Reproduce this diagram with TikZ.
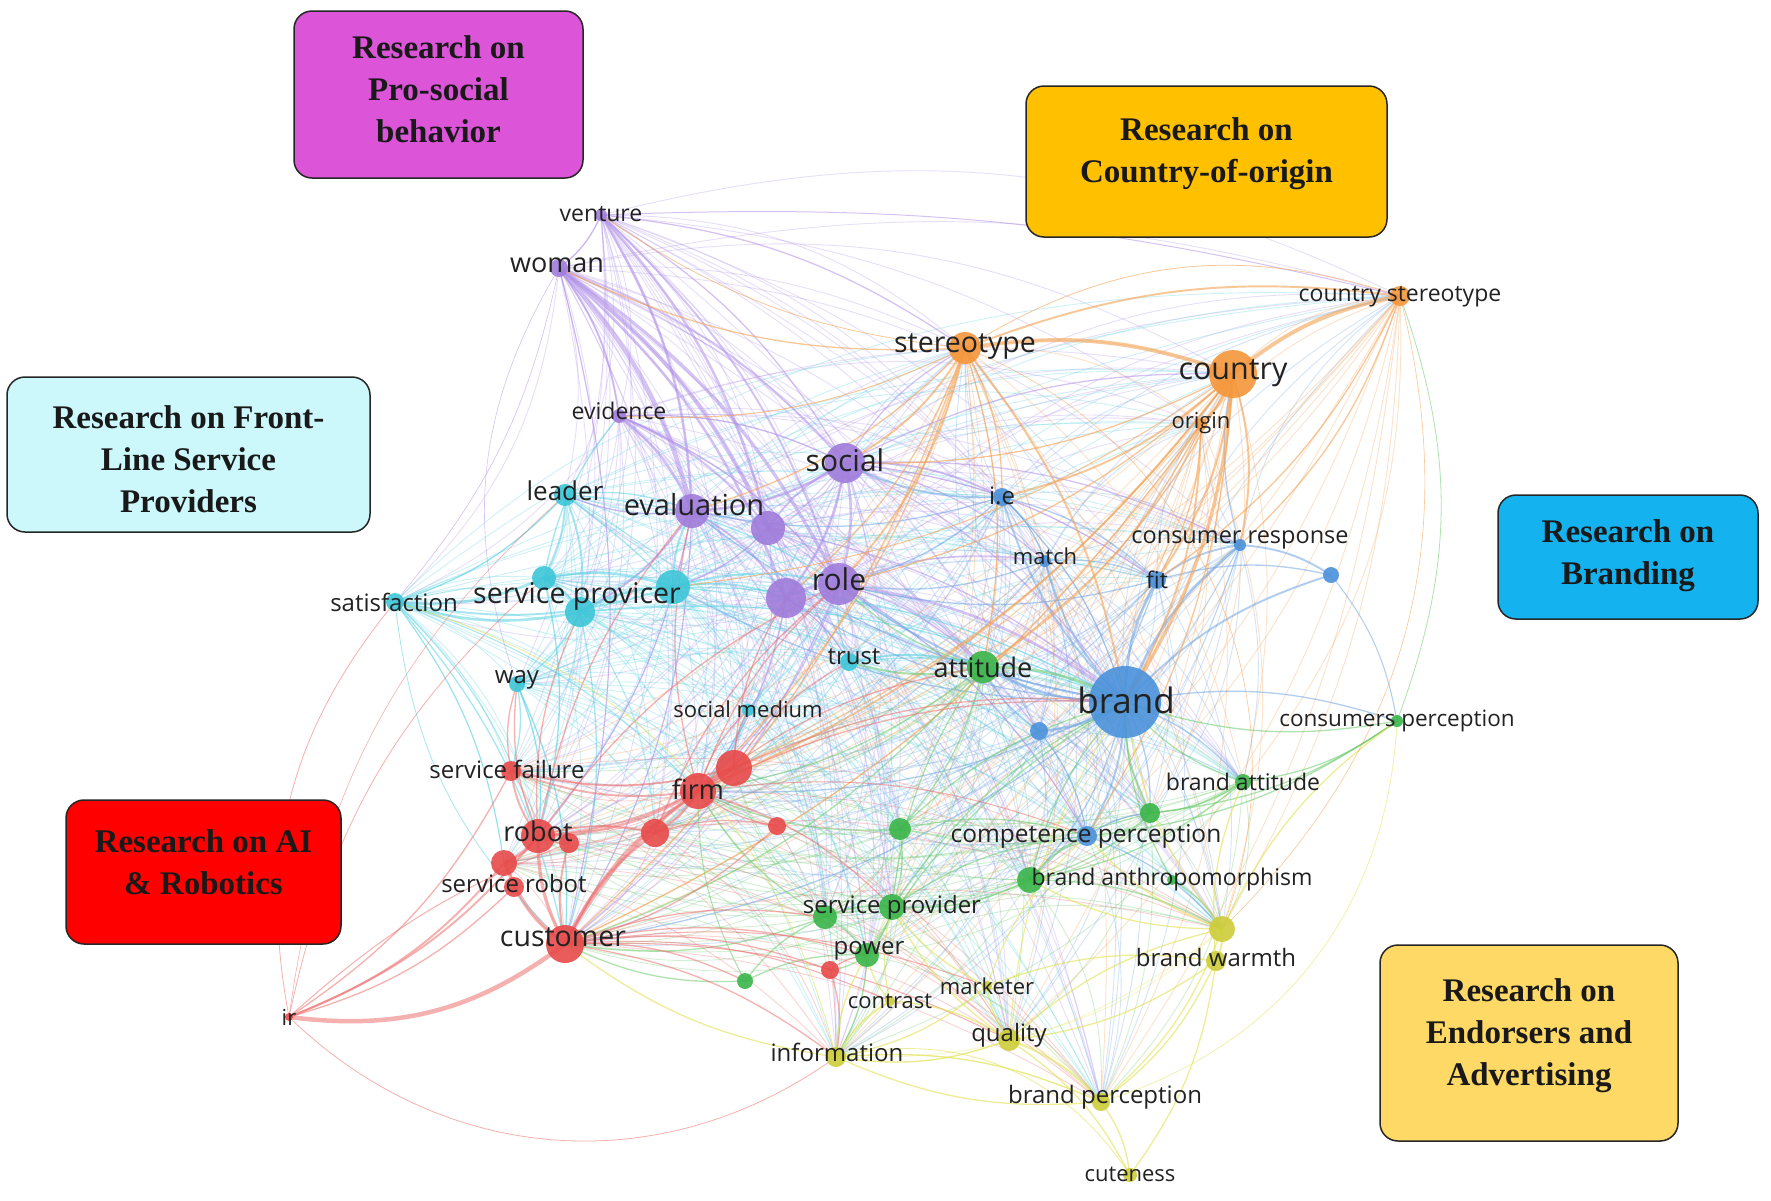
\documentclass[tikz,border=0pt]{standalone}
\usepackage{fontspec}
\newfontfamily\labfont{Open Sans}
\newfontfamily\boxfont{Liberation Serif}
\definecolor{pN}{HTML}{A07CDB}\definecolor{pE}{HTML}{B192E8}
\definecolor{cN}{HTML}{3EC6D8}\definecolor{cE}{HTML}{5CD3E3}
\definecolor{bN}{HTML}{4B92DB}\definecolor{bE}{HTML}{72A6E3}
\definecolor{oN}{HTML}{F5963A}\definecolor{oE}{HTML}{F4A254}
\definecolor{gN}{HTML}{3AB54A}\definecolor{gE}{HTML}{6CCB6C}
\definecolor{rN}{HTML}{E84A4A}\definecolor{rE}{HTML}{EE7070}
\definecolor{yN}{HTML}{CDCD3A}\definecolor{yE}{HTML}{E2E250}
\definecolor{boxP}{HTML}{DC55D8}\definecolor{boxO}{HTML}{FFC000}
\definecolor{boxC}{HTML}{CCF8FC}\definecolor{boxB}{HTML}{14B3EF}
\definecolor{boxR}{HTML}{FF0000}\definecolor{boxY}{HTML}{FFD966}
\definecolor{labtext}{HTML}{222222}
\newcommand\drawedges[2]{\foreach \a/\b/\w in {#2}{\draw[#1, line width=1.3*\w pt] (\a) to[bend left=14] (\b);}}
\def\meshlist{venture/pE, woman/pE, evidence/pE, social/pE, evaluation/pE, purpb/pE, role/pE,
  purpc/pE, leader/cE, satisfaction/cE, spa/cE, spb/cE, spc/cE, way/cE, trust/cE, socmed/cE,
  ie/bE, match/bE, consresp/bE, fit/bE, brand/bE, blueg/bE, compperc/bE, stereotype/oE,
  country/oE, origin/oE, countrystereo/oE, attitude/gE, brandatt/gE, greend/gE, greene/gE,
  branthro/gE, gspa/gE, gspb/gE, power/gE, firm/rE, redb/rE, servfail/rE, robot/rE, rede/rE,
  servrobot/rE, customer/rE, bwarmtop/yE, quality/yE, information/yE, brandperc/yE}
\tikzset{
  edgeP/.style={pE, draw opacity=0.55},
  edgeC/.style={cE, draw opacity=0.55},
  edgeB/.style={bE, draw opacity=0.55},
  edgeO/.style={oE, draw opacity=0.6},
  edgeG/.style={gE, draw opacity=0.55},
  edgeR/.style={rE, draw opacity=0.55},
  edgeY/.style={yE, draw opacity=0.6},
  meshedge/.style={draw opacity=0.3, line width=0.9pt},
  dot/.style={circle, inner sep=0pt, fill opacity=0.9},
  lab/.style={text=labtext, inner sep=0pt, font=\labfont},
  topicbox/.style={draw=black!85, line width=1.5pt, rounded corners=18pt, inner sep=0pt},
  topictext/.style={align=center, inner sep=0pt, text=black!90,
     font={\boxfont\bfseries\fontsize{33}{42}\selectfont}},
}
\begin{document}
\begin{tikzpicture}[x=1pt,y=-1pt]
\fill[white] (0,0) rectangle (1771,1200);
\useasboundingbox (0,0) rectangle (1771,1200);
% ---------- coordinates of network items ----------
\foreach \n/\x/\y in {venture/601/215, woman/559/268, evidence/619/416, social/845/463,
  evaluation/692/511, purpb/768/528, role/839/584, purpc/786/598,
  leader/565/495, satisfaction/395/602, spa/544/578, spb/580/612, spc/673/587,
  way/517/684, trust/849/662, socmed/748/710,
  ie/1002/497, match/1045/561, consresp/1240/545, fit/1157/580, bluee/1331/575,
  brand/1125/702, blueg/1039/731, compperc/1087/836,
  stereotype/965/348, country/1233/374, origin/1201/424, countrystereo/1400/296,
  attitude/983/667, consperc/1397/721, brandatt/1243/782, greend/1150/813, greene/900/829,
  branthro/1030/880, branthrolab/1172/880, gspa/825/917, gspb/892/907, power/867/955, greeni/745/981,
  firm/698/791, redb/734/768, servfail/511/771, robot/538/836, redd/569/843, rede/655/833,
  redf/777/826, servrobot/504/863, redh/514/887, customer/565/944, ir/289/1017, redj/830/970,
  bwarmtop/1222/929, bwarm/1216/961, marketer/987/986, contrast/890/1001, quality/1009/1040,
  information/836/1057, brandperc/1101/1102, cuteness/1130/1175}
  {\coordinate (\n) at (\x,\y);}
% ---------- thin background mesh of co-occurrence links ----------
\foreach \a/\ca [count=\i] in \meshlist {
  \foreach \b/\cb [count=\j] in \meshlist {
    \ifnum\j>\i
      \pgfmathtruncatemacro\k{mod(\i*5+\j*7,3)}
      \ifnum\k>0
        \pgfmathtruncatemacro\bn{8+6*\k}
        \draw[\ca, meshedge] (\a) to[bend left=\bn] (\b);
      \fi
    \fi
  }
}
% ---------- main edges ----------
\drawedges{edgeP}{woman/evaluation/3.5, woman/purpb/3, woman/role/2.5, woman/purpc/2, woman/social/1.5,
  venture/evaluation/2, venture/purpb/2, venture/role/1.5, venture/woman/1, evidence/evaluation/2,
  evidence/purpb/1.5, evidence/role/1, evidence/social/1, social/role/2, social/evaluation/2,
  social/purpc/2, social/brand/1, social/ie/1.5, social/stereotype/1, social/fit/1, social/consresp/1,
  role/brand/2, role/attitude/1, role/firm/1, role/customer/1, purpc/firm/1, evaluation/spb/1.5,
  evaluation/leader/1, evaluation/robot/1, purpb/brand/1, role/match/1, social/country/1,
  venture/stereotype/1, woman/customer/0.8, woman/satisfaction/0.5, role/compperc/1, purpc/trust/1,
  evaluation/customer/0.8, purpb/spc/1, purpb/social/1.5, purpc/role/2, evaluation/purpc/1.5,
  woman/evidence/1.5, venture/social/1, social/match/1}
\drawedges{edgeC}{spa/satisfaction/2, spb/satisfaction/2, spc/satisfaction/1.5, leader/spa/1.5,
  leader/spb/1.5, leader/evaluation/1, spb/way/1, spa/robot/1, spb/customer/1, spc/role/1.5,
  spc/purpc/1.5, satisfaction/customer/1, satisfaction/servrobot/0.8, satisfaction/robot/0.8,
  spb/brand/1, spc/brand/1, trust/attitude/1.5, trust/brand/1, socmed/firm/1, way/customer/1,
  way/servfail/1, leader/role/1, spa/evidence/1, satisfaction/firm/0.8, spa/spc/2, spb/spc/2,
  spa/spb/2, spc/evaluation/1.5, leader/satisfaction/1, way/robot/1, trust/role/1, socmed/rede/1}
\drawedges{edgeB}{brand/fit/2, brand/consresp/2, brand/ie/1.5, brand/match/1.5, brand/bluee/1.5,
  brand/blueg/2, brand/compperc/1.5, brand/attitude/2, ie/role/1, ie/social/1.5, ie/match/1,
  ie/fit/1, fit/consresp/1.5, consresp/bluee/1.5, fit/bluee/1, match/fit/1, brand/brandatt/1,
  brand/greend/1, brand/consperc/1, blueg/attitude/1, compperc/greend/1, compperc/bwarmtop/1,
  brand/customer/1, brand/firm/1, brand/spc/1, brand/evaluation/1, ie/evaluation/1,
  bluee/consperc/0.8, brand/branthro/1, brand/role/1.5, consresp/country/1, fit/role/1,
  match/role/1, blueg/compperc/1, brand/purpc/1, ie/brand/1}
\drawedges{edgeO}{stereotype/country/3, country/countrystereo/3, stereotype/countrystereo/1.5,
  country/origin/2, country/brand/2.5, origin/brand/1.5, country/fit/1.5, country/consresp/1.5,
  countrystereo/consresp/1, countrystereo/fit/1, stereotype/role/1.5, stereotype/social/1.5,
  stereotype/evaluation/1, stereotype/brand/1.5, stereotype/attitude/1, stereotype/ie/1,
  stereotype/customer/1, stereotype/firm/1, stereotype/woman/1, country/social/1, country/ie/1.5,
  country/attitude/1, country/firm/1.5, origin/customer/1, country/compperc/1,
  stereotype/evidence/0.8, country/spc/0.8, country/redb/1, origin/fit/1, stereotype/purpc/1,
  stereotype/venture/0.6, origin/attitude/1, country/role/1}
\drawedges{edgeG}{attitude/brand/2, attitude/trust/1.5, attitude/greene/1, attitude/role/1,
  consperc/brandatt/1, consperc/brand/1, consperc/greend/1, consperc/compperc/1, brandatt/brand/1,
  brandatt/greend/1, brandatt/branthro/1, greend/brand/1.5, greend/branthro/1, greene/gspb/1,
  greene/firm/1, branthro/compperc/1.5, branthro/gspb/1, branthro/bwarmtop/1, gspa/gspb/1.5,
  gspa/power/1, gspb/power/1, gspa/customer/1, gspa/firm/1, power/redj/1, greeni/customer/1,
  greeni/gspa/1, greeni/power/1, power/information/1, gspb/attitude/1, gspb/brand/1, power/brand/1,
  greene/brand/1, branthro/brand/1, greeni/firm/0.8, attitude/firm/1, attitude/customer/1,
  branthrolab/brand/1, branthrolab/bwarmtop/1, greene/compperc/1, gspb/compperc/1}
\drawedges{edgeR}{customer/robot/2.5, customer/firm/2, customer/redb/2, customer/rede/2,
  customer/servrobot/2, customer/redh/1.5, customer/redd/1.5, robot/ir/1.5, servrobot/ir/1.5,
  servfail/ir/1, redh/ir/1, firm/redb/2, firm/robot/2, firm/rede/2, firm/servfail/1.5,
  redb/robot/1.5, redb/servfail/1.5, robot/servfail/1.5, robot/servrobot/2, robot/rede/1.5,
  rede/redf/1, redf/firm/1, redf/customer/1, firm/socmed/1, firm/role/1, firm/evaluation/1,
  redb/purpc/1, robot/spb/1, customer/power/1, customer/redj/1, customer/gspa/1,
  customer/information/1, customer/quality/0.8, customer/greeni/1, firm/attitude/1, firm/brand/1,
  redb/brand/1, firm/gspb/1, redj/information/1, redj/power/1, robot/way/1, servfail/way/1,
  customer/contrast/0.8, customer/marketer/0.8, firm/compperc/0.8, robot/evaluation/1,
  robot/role/1, redb/trust/1, redd/robot/1.5, servrobot/redh/1.5, redb/socmed/1, rede/role/1}
\drawedges{edgeY}{bwarmtop/bwarm/1.5, bwarmtop/brandperc/1, bwarm/brandperc/1, bwarm/cuteness/1,
  brandperc/cuteness/1, quality/brandperc/1.5, quality/cuteness/1, quality/marketer/1,
  quality/information/1, information/contrast/1.5, information/power/1, information/brandperc/1,
  marketer/bwarm/1, quality/bwarmtop/1, bwarmtop/compperc/1, bwarmtop/branthro/1,
  bwarmtop/consperc/1, bwarmtop/brand/1, contrast/power/1, contrast/gspb/1, marketer/gspb/1,
  quality/gspb/1, information/customer/1, bwarm/brandatt/1, quality/brand/0.8,
  marketer/compperc/0.8, brandperc/information/1, contrast/quality/1, marketer/information/1,
  bwarm/quality/1}
% long arcs
\draw[edgeR, line width=4.5pt] (ir) to[bend right=22] (customer);
\draw[edgeR, line width=1pt] (ir) to[bend left=10] (redd);
\draw[edgeR, line width=0.8pt] (ir) to[bend left=18] (spa);
\draw[edgeR, line width=0.8pt] (ir) to[bend left=25] (satisfaction);
\draw[edgeR, line width=0.6pt] (ir) to[bend left=20] (leader);
\draw[edgeR, line width=0.8pt] (ir) to[bend right=40] (information);
\draw[edgeY, line width=0.8pt] (information) to[bend left=35] (cuteness);
\draw[edgeY, line width=0.8pt] (information) to[bend right=30] (satisfaction);
\draw[edgeP, line width=1pt] (venture) to[bend left=8] (countrystereo);
\draw[edgeO, line width=0.8pt] (stereotype) to[bend left=25] (countrystereo);
\draw[edgeO, line width=0.6pt] (countrystereo) to[bend left=30] (bwarmtop);
\draw[edgeO, line width=0.6pt] (stereotype) to[bend left=45] (bwarmtop);
\draw[edgeY, line width=0.6pt] (consperc) to[bend left=35] (brandperc);
\draw[edgeG, line width=0.8pt] (countrystereo) to[bend left=20] (consperc);
\draw[edgeC, line width=0.8pt] (satisfaction) to[bend right=20] (customer);
\draw[edgeP, line width=0.6pt] (woman) to[bend right=25] (way);
% ---------- circles ----------
\foreach \n/\r/\c in {venture/6/pN, woman/9/pN, evidence/7/pN, social/20/pN, evaluation/17/pN,
  purpb/17/pN, role/21/pN, purpc/20/pN,
  leader/11/cN, satisfaction/9/cN, spa/12/cN, spb/15/cN, spc/17/cN, way/8/cN, trust/9/cN, socmed/6/cN,
  ie/9/bN, match/6/bN, consresp/6/bN, fit/9/bN, bluee/8/bN, brand/36/bN, blueg/9/bN, compperc/10/bN,
  stereotype/16/oN, country/24/oN, origin/6/oN, countrystereo/10/oN,
  attitude/16/gN, consperc/6/gN, brandatt/8/gN, greend/10/gN, greene/11/gN, branthro/13/gN,
  branthrolab/5/gN, gspa/12/gN, gspb/13/gN, power/12/gN, greeni/8/gN,
  firm/18/rN, redb/18/rN, servfail/10/rN, robot/17/rN, redd/10/rN, rede/14/rN, redf/9/rN,
  servrobot/13/rN, redh/10/rN, customer/19/rN, ir/4/rN, redj/9/rN,
  bwarmtop/13/yN, bwarm/10/yN, marketer/5/yN, contrast/5/yN, quality/11/yN, information/10/yN,
  brandperc/9/yN, cuteness/7/yN}
  {\node[dot, fill=\c, minimum size={2*\r pt}] (c-\n) at (\n) {};}
% ---------- labels ----------
\node[lab, font=\labfont\fontsize{23}{23}\selectfont] (l-venture) at (601,214) {venture};
\node[lab, font=\labfont\fontsize{27}{27}\selectfont] (l-woman) at (557,265) {woman};
\node[lab, font=\labfont\fontsize{23}{23}\selectfont] (l-evidence) at (619,411) {evidence};
\node[lab, font=\labfont\fontsize{30}{30}\selectfont] (l-social) at (845,460) {social};
\node[lab, font=\labfont\fontsize{29}{29}\selectfont] (l-evaluation) at (694,505) {evaluation};
\node[lab, font=\labfont\fontsize{26}{26}\selectfont] (l-leader) at (565,491) {leader};
\node[lab, font=\labfont\fontsize{24}{24}\selectfont] (l-satisfaction) at (394,602) {satisfaction};
\node[lab, font=\labfont\fontsize{28.5}{29}\selectfont] (l-sp) at (577,596) {service provicer};
\node[lab, font=\labfont\fontsize{24}{24}\selectfont] (l-way) at (517,680) {way};
\node[lab, font=\labfont\fontsize{24}{24}\selectfont] (l-trust) at (854,657) {trust};
\node[lab, font=\labfont\fontsize{22}{22}\selectfont] (l-socmed) at (748,709) {social medium};
\node[lab, font=\labfont\fontsize{30}{30}\selectfont] (l-role) at (839,579) {role};
\node[lab, font=\labfont\fontsize{24}{24}\selectfont] (l-ie) at (1002,496) {i.e};
\node[lab, font=\labfont\fontsize{22}{22}\selectfont] (l-match) at (1045,556) {match};
\node[lab, font=\labfont\fontsize{23.5}{24}\selectfont] (l-consresp) at (1240,540) {consumer response};
\node[lab, font=\labfont\fontsize{23}{23}\selectfont] (l-fit) at (1157,580) {fit};
\node[lab, font=\labfont\fontsize{35}{35}\selectfont] (l-brand) at (1126,700) {brand};
\node[lab, font=\labfont\fontsize{28.5}{29}\selectfont] (l-stereotype) at (965,347) {stereotype};
\node[lab, font=\labfont\fontsize{30.5}{31}\selectfont] (l-country) at (1233,373) {country};
\node[lab, font=\labfont\fontsize{22}{22}\selectfont] (l-origin) at (1201,423) {origin};
\node[lab, font=\labfont\fontsize{23}{23}\selectfont] (l-countrystereo) at (1400,297) {country stereotype};
\node[lab, font=\labfont\fontsize{27}{27}\selectfont] (l-attitude) at (983,667) {attitude};
\node[lab, font=\labfont\fontsize{22.5}{23}\selectfont] (l-consperc) at (1397,721) {consumers perception};
\node[lab, font=\labfont\fontsize{23}{23}\selectfont] (l-brandatt) at (1243,782) {brand attitude};
\node[lab, font=\labfont\fontsize{24.5}{25}\selectfont] (l-compperc) at (1086,836) {competence perception};
\node[lab, font=\labfont\fontsize{23}{23}\selectfont] (l-branthro) at (1172,880) {brand anthropomorphism};
\node[lab, font=\labfont\fontsize{24}{24}\selectfont] (l-gsp) at (892,907) {service provider};
\node[lab, font=\labfont\fontsize{24}{24}\selectfont] (l-power) at (869,951) {power};
\node[lab, font=\labfont\fontsize{27}{27}\selectfont] (l-firm) at (698,789) {firm};
\node[lab, font=\labfont\fontsize{24}{24}\selectfont] (l-servfail) at (507,769) {service failure};
\node[lab, font=\labfont\fontsize{27}{27}\selectfont] (l-robot) at (538,831) {robot};
\node[lab, font=\labfont\fontsize{24}{24}\selectfont] (l-servrobot) at (514,883) {service robot};
\node[lab, font=\labfont\fontsize{28.5}{29}\selectfont] (l-customer) at (563,937) {customer};
\node[lab, font=\labfont\fontsize{22}{22}\selectfont] (l-ir) at (289,1017) {ir};
\node[lab, font=\labfont\fontsize{24}{24}\selectfont] (l-bwarm) at (1216,957) {brand warmth};
\node[lab, font=\labfont\fontsize{22}{22}\selectfont] (l-marketer) at (987,986) {marketer};
\node[lab, font=\labfont\fontsize{22}{22}\selectfont] (l-contrast) at (890,1001) {contrast};
\node[lab, font=\labfont\fontsize{24}{24}\selectfont] (l-quality) at (1009,1035) {quality};
\node[lab, font=\labfont\fontsize{24}{24}\selectfont] (l-information) at (837,1052) {information};
\node[lab, font=\labfont\fontsize{24}{24}\selectfont] (l-brandperc) at (1105,1097) {brand perception};
\node[lab, font=\labfont\fontsize{22}{22}\selectfont] (l-cuteness) at (1130,1174) {cuteness};
% ---------- topic boxes ----------
\node[topicbox, fill=boxP, minimum width=289pt, minimum height=167pt] (box-prosocial) at (438.5,94.5) {};
\node[topictext] (t-prosocial) at (438.5,89) {Research on\\Pro-social\\behavior};
\node[topicbox, fill=boxO, minimum width=361pt, minimum height=151pt] (box-country) at (1206.5,161.5) {};
\node[topictext] (t-country) at (1206.5,154) {Research on\\Country-of-origin};
\node[topicbox, fill=boxC, minimum width=363pt, minimum height=155pt] (box-frontline) at (188.5,454.5) {};
\node[topictext] (t-frontline) at (188.5,459) {Research on Front-\\Line Service\\Providers};
\node[topicbox, fill=boxB, minimum width=260pt, minimum height=124pt] (box-branding) at (1628,557) {};
\node[topictext] (t-branding) at (1628,556) {Research on\\Branding};
\node[topicbox, fill=boxR, minimum width=275pt, minimum height=144pt] (box-ai) at (203.5,872) {};
\node[topictext] (t-ai) at (203.5,862) {Research on AI\\\& Robotics};
\node[topicbox, fill=boxY, minimum width=298pt, minimum height=196pt] (box-endorsers) at (1529,1043) {};
\node[topictext] (t-endorsers) at (1529,1036) {Research on\\Endorsers and\\Advertising};
\end{tikzpicture}
\end{document}
